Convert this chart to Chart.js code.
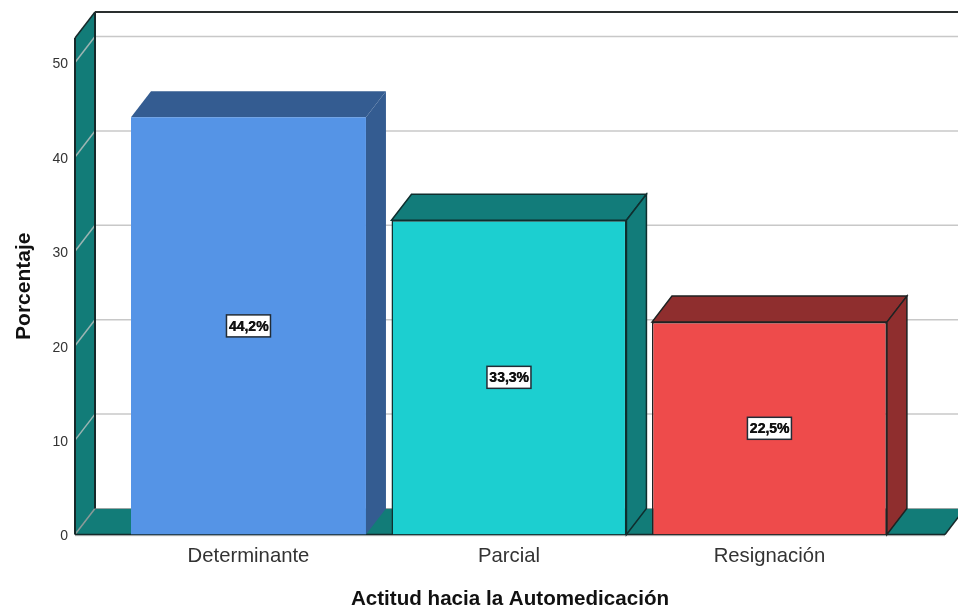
<!DOCTYPE html>
<html><head><meta charset="utf-8">
<style>html,body{margin:0;padding:0;background:#fff}canvas{display:block}</style>
<script src="https://cdn.jsdelivr.net/npm/chart.js@4"></script>
</head><body><canvas id="c" width="958" height="610"></canvas>
<script>
const categories = ['Determinante','Parcial','Resignación'];
const percentages = [44.2,33.3,22.5];
const valueLabels = ['44,2%','33,3%','22,5%'];
const yTicks = [0,10,20,30,40,50];
const frontColors = ['#5594E6','#1CCFD0','#EE4B4B'];
const sideColors = ['#345C91','#127C7A','#8F2E2E'];
const edgeColors = ['#5594E6','#0F2E2E','#1E2222'];
const edgeWidths = [0,1.5,1.5];
const DX = 20, DY = -26;
const WALL = '#127C78', DARK = '#16292A', GRID = '#C8C8C8';

function poly(ctx, pts, fill, stroke, lw){
  ctx.beginPath();
  pts.forEach((p,i)=> i?ctx.lineTo(p[0],p[1]):ctx.moveTo(p[0],p[1]));
  ctx.closePath();
  if(fill){ctx.fillStyle=fill;ctx.fill();}
  if(stroke){ctx.strokeStyle=stroke;ctx.lineWidth=lw||1;ctx.stroke();}
}
function line(ctx,x1,y1,x2,y2,c,w){
  ctx.beginPath();ctx.moveTo(x1,y1);ctx.lineTo(x2,y2);ctx.strokeStyle=c;ctx.lineWidth=w;ctx.stroke();
}
const box3d = {
  id:'box3d',
  beforeDatasetsDraw(chart){
    const ctx=chart.ctx, xs=chart.scales.x, ys=chart.scales.y;
    const L=xs.left,R=xs.right,T=ys.top,B=ys.bottom;
    ctx.save();
    poly(ctx,[[L,T],[L+DX,T+DY],[L+DX,B+DY],[L,B]],WALL);
    poly(ctx,[[L,B],[L+DX,B+DY],[R+DX,B+DY],[R,B]],WALL);
    yTicks.forEach(v=>{
      const y=ys.getPixelForValue(v);
      if(v>0){
        line(ctx,L,y,L+DX,y+DY,'#9DB5B3',1.5);
        line(ctx,L+DX,y+DY,chart.width,y+DY,GRID,1.5);
      }
    });
    line(ctx,L,B,L+DX,B+DY,'#8A9A98',1.5);
    line(ctx,L+DX,B+DY,chart.width,B+DY,'#9AA5A4',1);
    line(ctx,L,T,L,B,DARK,2);
    line(ctx,L,T,L+DX,T+DY,DARK,1.5);
    line(ctx,L+DX,T+DY,L+DX,B+DY,DARK,2);
    line(ctx,L+DX,T+DY,chart.width,T+DY,'#2A2F2F',2);
    line(ctx,L,B+1,R,B+1,'#D0D0D0',1.5);
    line(ctx,L,B,R,B,DARK,1.5);
    line(ctx,R,B,R+DX,B+DY,DARK,1.5);
    chart.getDatasetMeta(0).data.forEach((bar,i)=>{
      const p=bar.getProps(['x','y','base','width'],true);
      const l=p.x-p.width/2,r=p.x+p.width/2;
      poly(ctx,[[l,p.y],[l+DX,p.y+DY],[r+DX,p.y+DY],[r,p.y]],sideColors[i],i?edgeColors[i]:null,1.5);
      poly(ctx,[[r,p.y],[r+DX,p.y+DY],[r+DX,p.base+DY],[r,p.base]],sideColors[i],i?edgeColors[i]:null,1.5);
    });
    ctx.restore();
  },
  afterDatasetsDraw(chart){
    const ctx=chart.ctx;
    ctx.save();
    chart.getDatasetMeta(0).data.forEach((bar,i)=>{
      const p=bar.getProps(['x','y','base'],true);
      const cy=(p.y+p.base)/2, w=44, h=22;
      ctx.fillStyle='#fff';ctx.fillRect(p.x-w/2,cy-h/2,w,h);
      ctx.strokeStyle='#222C36';ctx.lineWidth=1.5;ctx.strokeRect(p.x-w/2,cy-h/2,w,h);
      ctx.font='bold 14px "Liberation Sans"';
      ctx.fillStyle='#111';ctx.textAlign='center';ctx.textBaseline='middle';
      ctx.fillText(valueLabels[i],p.x,cy+1);
      ctx.fillText(valueLabels[i],p.x+0.5,cy+1);
    });
    ctx.restore();
  }
};
new Chart(document.getElementById('c'),{
  type:'bar',
  data:{datasets:[{
    data:percentages.map((v,i)=>({x:i,y:v})),
    backgroundColor:frontColors,
    borderColor:edgeColors,
    borderWidth:edgeWidths,
    barPercentage:0.902,
    categoryPercentage:1
  }]},
  options:{
    responsive:false,animation:false,
    layout:{padding:{left:0,top:38,right:13,bottom:0}},
    plugins:{legend:{display:false},tooltip:{enabled:false}},
    scales:{
      x:{
        type:'linear',min:-0.666,max:2.674,offset:false,
        grid:{display:false,drawTicks:false},border:{display:false},
        afterBuildTicks(s){s.ticks=categories.map((_,i)=>({value:i}));},
        afterFit(s){s.height=75.5;},
        ticks:{autoSkip:false,maxRotation:0,padding:10,color:'#333',
          font:{family:'Liberation Sans',size:20.3},
          callback:v=>categories[v]},
        title:{display:true,text:'Actitud hacia la Automedicación',color:'#111',padding:{top:12,bottom:-2},
          font:{family:'Liberation Sans',size:20.6,weight:'bold'}}
      },
      y:{
        min:0,max:52.6,
        grid:{display:false,drawTicks:false},border:{display:false},
        afterBuildTicks(s){s.ticks=yTicks.map(v=>({value:v}));},
        afterFit(s){s.width=75;},
        ticks:{padding:7,labelOffset:2,color:'#333',font:{family:'Liberation Sans',size:14}},
        title:{display:true,text:'Porcentaje',color:'#111',padding:{top:12,bottom:0},
          font:{family:'Liberation Sans',size:21,weight:'bold'}}
      }
    }
  },
  plugins:[box3d]
});
</script></body></html>
